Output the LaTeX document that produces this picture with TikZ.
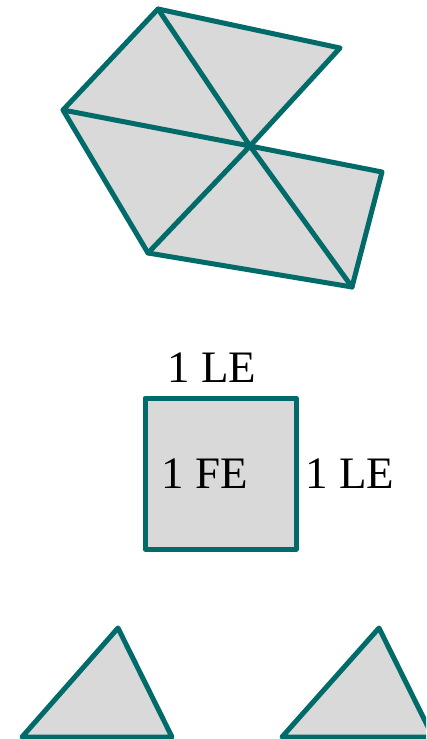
\documentclass[tikz,border=0pt]{standalone}
\usepackage{fontspec}
\setmainfont{Liberation Serif}
\usetikzlibrary{positioning}

\definecolor{edgeteal}{RGB}{0,107,104}
\definecolor{facegray}{RGB}{217,217,217}

\tikzset{
  face/.style={draw=edgeteal, fill=facegray, line width=5pt, line join=round},
  edge/.style={draw=edgeteal, line width=5pt, line cap=round},
  lbl/.style={inner sep=0pt, anchor=base, font=\fontsize{45}{52}\selectfont}
}

\begin{document}
\begin{tikzpicture}[x=1pt, y=-1pt]
  \clip (0,0) rectangle (426,739);
  \useasboundingbox (0,0) rectangle (426,739);

  % fan of triangles
  \coordinate (a) at (158,9);
  \coordinate (b) at (340,48);
  \coordinate (c) at (250,146);
  \coordinate (d) at (63,110);
  \coordinate (e) at (148,253);
  \coordinate (f) at (352,287);
  \coordinate (g) at (382,172);
  \path[face] (d) -- (a) -- (b) -- (c) -- (g) -- (f) -- (e) -- cycle;
  \path[edge]
    (c) -- (a)
    (c) -- (d)
    (c) -- (e)
    (c) -- (f);

  % unit square
  \coordinate (s1) at (145,398);
  \coordinate (s2) at (296,549);
  \path[face] (s1) rectangle (s2);
  \node[lbl] (top) at (212,382) {1 LE};
  \node[lbl] (area) at (205,488) {1 FE};
  \node[lbl] (side) at (350,488) {1 LE};

  % two triangles
  \coordinate (t1) at (22,737);
  \coordinate (t2) at (118,628);
  \coordinate (t3) at (172,737);
  \path[face] (t1) -- (t2) -- (t3) -- cycle;
  \coordinate (u1) at (282,737);
  \coordinate (u2) at (379,628);
  \coordinate (u3) at (433,737);
  \path[face] (u1) -- (u2) -- (u3) -- cycle;
\end{tikzpicture}
\end{document}
